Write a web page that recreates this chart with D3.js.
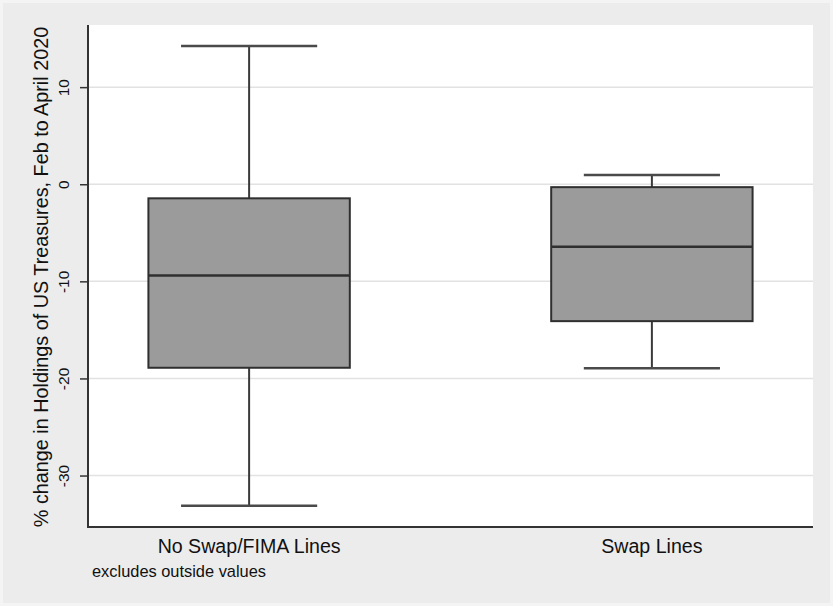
<!DOCTYPE html>
<html>
<head>
<meta charset="utf-8">
<script src="https://cdn.jsdelivr.net/npm/d3@7"></script>
<style>
  html, body { margin: 0; padding: 0; background: #ececec; }
  text { font-family: "Liberation Sans", Arial, sans-serif; fill: #111; }
</style>
</head>
<body>
<div id="chart"></div>
<script>
// groups and box statistics (% change)
const groups = ['No Swap/FIMA Lines', 'Swap Lines'];
const lowerWhisker = [-33.1, -18.95];
const q1 = [-18.9, -14.1];
const median = [-9.4, -6.45];
const q3 = [-1.45, -0.3];
const upperWhisker = [14.25, 0.95];
const yTicks = [-30, -20, -10, 0, 10];
const yTitle = '% change in Holdings of US Treasures, Feb to April 2020';
const note = 'excludes outside values';

const W = 833, H = 606;
const plot = { left: 88, right: 813, top: 25, bottom: 527 };

const svg = d3.select('#chart').append('svg')
    .attr('width', W)
    .attr('height', H);

// outer background with lighter border
svg.append('rect').attr('width', W).attr('height', H).attr('fill', '#f4f4f4');
svg.append('rect').attr('x', 3).attr('y', 3).attr('width', W - 6).attr('height', H - 6).attr('fill', '#ececec');

// plot region
svg.append('rect')
    .attr('x', plot.left).attr('y', plot.top)
    .attr('width', plot.right - plot.left).attr('height', plot.bottom - plot.top)
    .attr('fill', '#ffffff');

const y = d3.scaleLinear()
    .domain([-35.3, 16.4])
    .range([plot.bottom, plot.top]);

const x = d3.scalePoint()
    .domain(groups)
    .range([plot.left, plot.right])
    .padding(0.4);

const step = x.step();
const boxW = step * 0.5;
const capW = step * 0.338;

// gridlines
svg.append('g').selectAll('line')
    .data(yTicks)
    .enter().append('line')
      .attr('x1', plot.left).attr('x2', plot.right)
      .attr('y1', d => y(d)).attr('y2', d => y(d))
      .attr('stroke', '#e2e2e2')
      .attr('stroke-width', 1.5);

// y axis, plain hyphen for negatives like the original
const yAxis = d3.axisLeft(y)
    .tickValues(yTicks)
    .tickFormat(d => String(d))
    .tickSize(8)
    .tickSizeOuter(0);
const gy = svg.append('g')
    .attr('transform', 'translate(' + plot.left + ',0)')
    .call(yAxis);
gy.select('.domain').remove();
gy.selectAll('.tick line').attr('stroke', '#333').attr('stroke-width', 1.5);
gy.selectAll('.tick text')
    .attr('x', null).attr('dy', null)
    .attr('transform', 'translate(-19,0) rotate(-90)')
    .attr('text-anchor', 'middle')
    .style('font-size', '15.5px')
    .style('font-family', '"Liberation Sans", Arial, sans-serif')
    .attr('fill', '#111');

svg.append('text')
    .attr('transform', 'translate(48,' + ((plot.top + plot.bottom) / 2 + 1) + ') rotate(-90)')
    .attr('text-anchor', 'middle')
    .style('font-size', '19.8px')
    .text(yTitle);

// boxes
const data = groups.map((g, i) => ({
  g, lo: lowerWhisker[i], q1: q1[i], med: median[i], q3: q3[i], hi: upperWhisker[i]
}));

const box = svg.append('g').selectAll('g')
    .data(data)
    .enter().append('g');

box.append('line')
    .attr('x1', d => x(d.g)).attr('x2', d => x(d.g))
    .attr('y1', d => y(d.hi)).attr('y2', d => y(d.q3))
    .attr('stroke', '#3a3a3a').attr('stroke-width', 2);
box.append('line')
    .attr('x1', d => x(d.g)).attr('x2', d => x(d.g))
    .attr('y1', d => y(d.q1)).attr('y2', d => y(d.lo))
    .attr('stroke', '#3a3a3a').attr('stroke-width', 2);

box.append('line')
    .attr('x1', d => x(d.g) - capW / 2).attr('x2', d => x(d.g) + capW / 2)
    .attr('y1', d => y(d.hi)).attr('y2', d => y(d.hi))
    .attr('stroke', '#4a4a4a').attr('stroke-width', 2.5);
box.append('line')
    .attr('x1', d => x(d.g) - capW / 2).attr('x2', d => x(d.g) + capW / 2)
    .attr('y1', d => y(d.lo)).attr('y2', d => y(d.lo))
    .attr('stroke', '#4a4a4a').attr('stroke-width', 2.5);

box.append('rect')
    .attr('x', d => x(d.g) - boxW / 2)
    .attr('y', d => y(d.q3))
    .attr('width', boxW)
    .attr('height', d => y(d.q1) - y(d.q3))
    .attr('fill', '#9b9b9b')
    .attr('stroke', '#2f2f2f')
    .attr('stroke-width', 2);

box.append('line')
    .attr('x1', d => x(d.g) - boxW / 2).attr('x2', d => x(d.g) + boxW / 2)
    .attr('y1', d => y(d.med)).attr('y2', d => y(d.med))
    .attr('stroke', '#2f2f2f').attr('stroke-width', 2.5);

// axis lines (left and bottom only)
svg.append('line')
    .attr('x1', plot.left).attr('x2', plot.left)
    .attr('y1', plot.top).attr('y2', plot.bottom)
    .attr('stroke', '#333').attr('stroke-width', 2);
svg.append('line')
    .attr('x1', plot.left - 1).attr('x2', plot.right)
    .attr('y1', plot.bottom).attr('y2', plot.bottom)
    .attr('stroke', '#333').attr('stroke-width', 2);

// category labels
svg.append('g').selectAll('text')
    .data(groups)
    .enter().append('text')
      .attr('x', d => x(d))
      .attr('y', 553)
      .attr('text-anchor', 'middle')
      .style('font-size', '19.6px')
      .text(d => d);

svg.append('text')
    .attr('x', 92)
    .attr('y', 577)
    .style('font-size', '16.4px')
    .text(note);
</script>
</body>
</html>
